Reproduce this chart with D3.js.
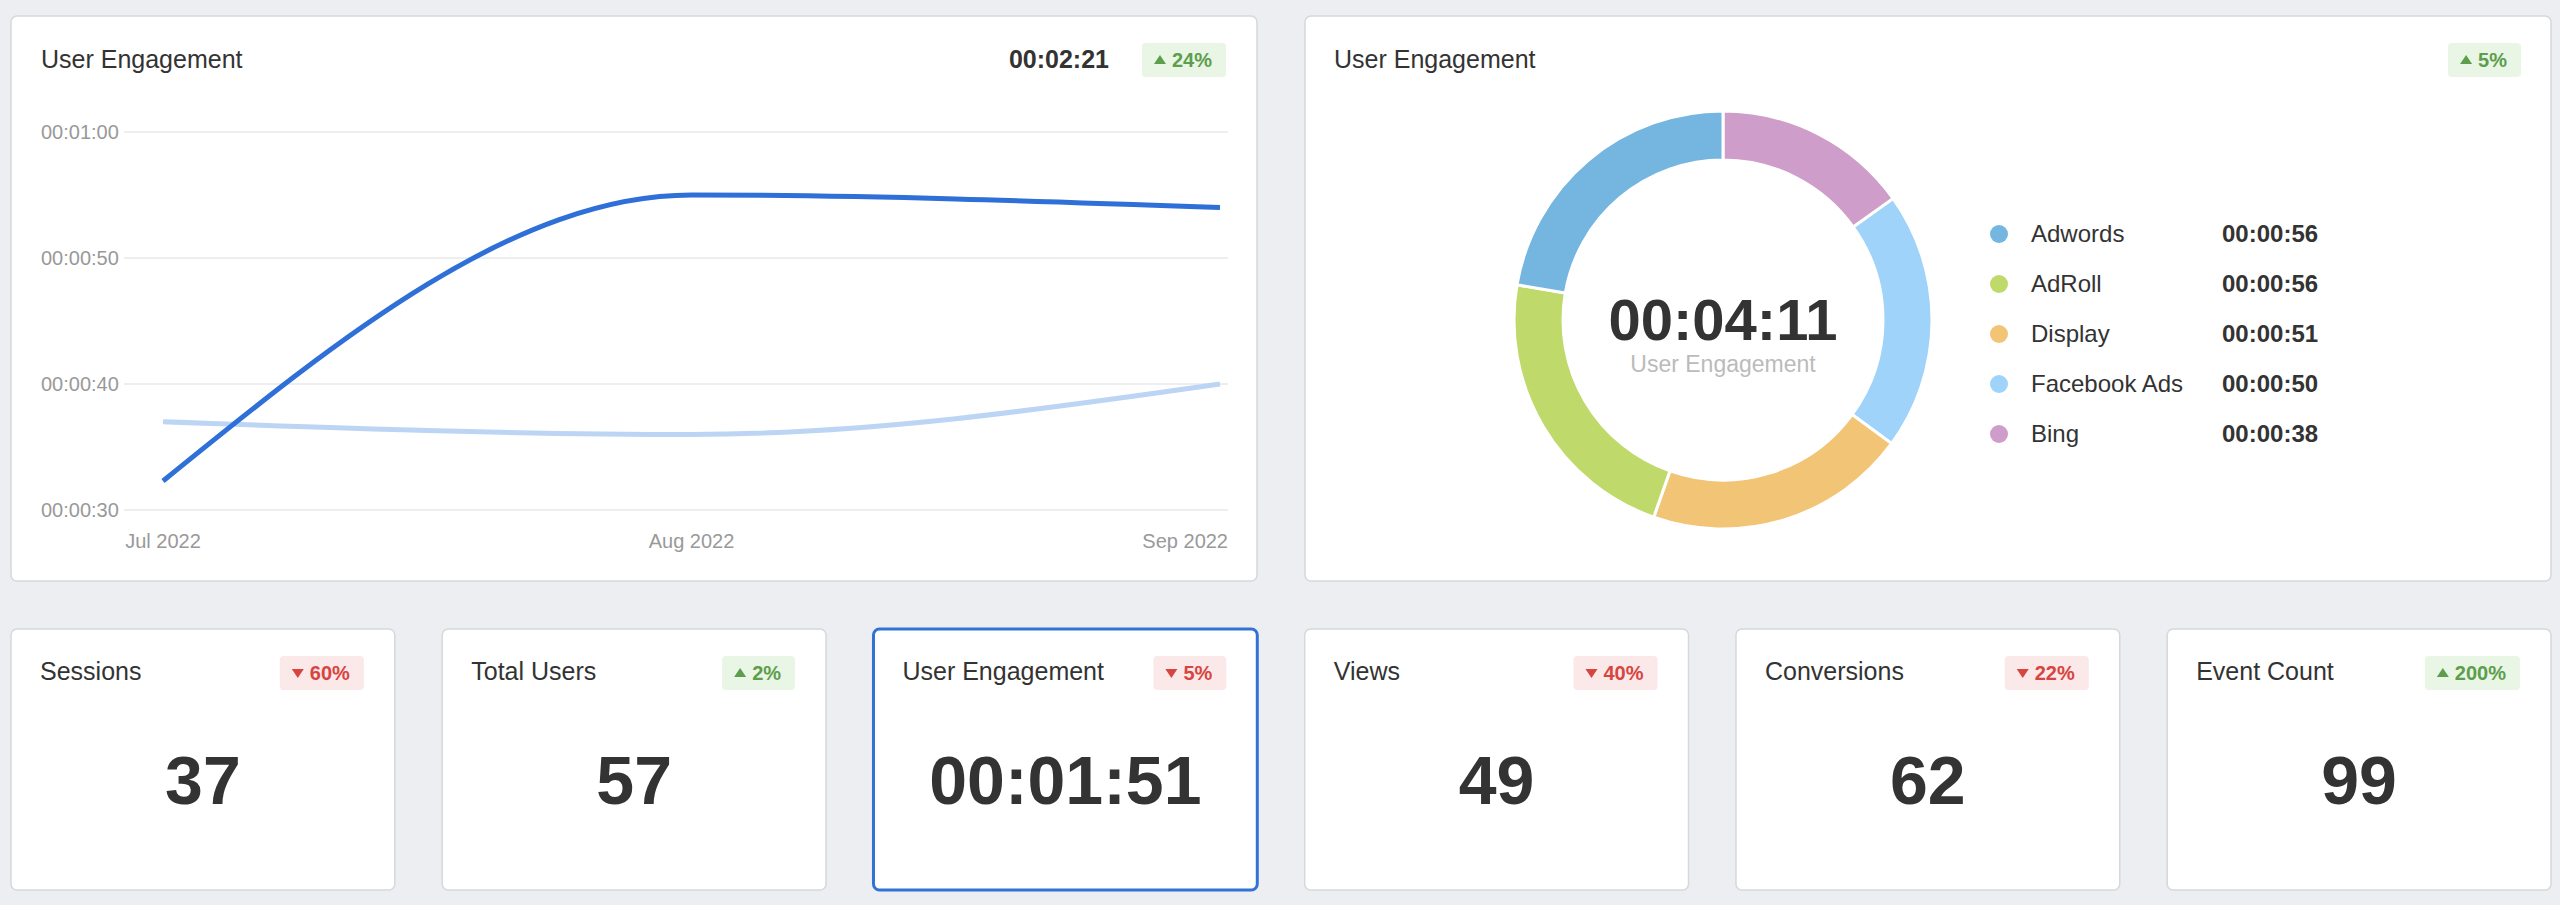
<!DOCTYPE html>
<html>
<head>
<meta charset="utf-8">
<script src="https://cdn.jsdelivr.net/npm/d3@7"></script>
<style>
  body { margin: 0; background: #eceef1; font-family: "Liberation Sans", Arial, sans-serif; }
</style>
</head>
<body>
<svg id="dash"></svg>
<script>
// line chart data (seconds)
const months = ["Jul 2022", "Aug 2022", "Sep 2022"];
const current = [32.3, 55, 54];
const previous = [37, 36, 40];
const yTicks = [30, 40, 50, 60];

// donut data (seconds), clockwise from top
const sources = ["Bing", "Facebook Ads", "Display", "AdRoll", "Adwords"];
const sourceVals = [38, 50, 51, 56, 56];
const sourceColors = ["#cf9dc9", "#9fd3fa", "#f2c476", "#c0d96b", "#74b6e0"];
const legendOrder = ["Adwords", "AdRoll", "Display", "Facebook Ads", "Bing"];

// kpi cards
const kpiNames = ["Sessions", "Total Users", "User Engagement", "Views", "Conversions", "Event Count"];
const kpiValues = ["37", "57", "00:01:51", "49", "62", "99"];
const kpiChange = [-60, 2, -5, -40, -22, 200];

const fmt = s => "00:" + d3.format("02")(Math.floor(s / 60)) + ":" + d3.format("02")(Math.round(s % 60));

const svg = d3.select("#dash").attr("width", 2560).attr("height", 905);

function card(x, y, w, h, sel) {
  svg.append("rect").attr("x", x).attr("y", y).attr("width", w).attr("height", h)
    .attr("rx", 6).attr("fill", "#fff")
    .attr("stroke", sel ? "#3173d5" : "#d5d8dc").attr("stroke-width", sel ? 3 : 1.5);
}

function badge(xRight, yMid, pct) {
  const up = pct >= 0;
  const g = svg.append("g");
  const t = g.append("text").attr("x", xRight - 14).attr("y", yMid + 7)
    .attr("text-anchor", "end").attr("font-size", 20).attr("font-weight", "bold")
    .attr("fill", up ? "#5c9e4c" : "#d64541").text(Math.abs(pct) + "%");
  const tw = t.node().getComputedTextLength();
  const w = tw + 44;
  g.insert("rect", "text").attr("x", xRight - w).attr("y", yMid - 17).attr("width", w).attr("height", 34)
    .attr("rx", 4).attr("fill", up ? "#e9f5e5" : "#fbe8e8");
  const ax = xRight - 14 - tw - 12;
  g.append("path")
    .attr("d", up ? `M${ax - 6},${yMid + 4}L${ax + 6},${yMid + 4}L${ax},${yMid - 5}Z`
                  : `M${ax - 6},${yMid - 4}L${ax + 6},${yMid - 4}L${ax},${yMid + 5}Z`)
    .attr("fill", up ? "#5c9e4c" : "#d64541");
}

// ---- line panel
card(11, 16, 1246, 565);
svg.append("text").attr("x", 41).attr("y", 68).attr("font-size", 25).attr("fill", "#333").text("User Engagement");
svg.append("text").attr("x", 1109).attr("y", 68).attr("text-anchor", "end").attr("font-size", 25)
  .attr("font-weight", "bold").attr("fill", "#333").text("00:02:21");
badge(1226, 60, 24);

const x = d3.scalePoint().domain(months).range([163, 1220]);
const y = d3.scaleLinear().domain([30, 60]).range([510, 132]);

svg.append("g").selectAll("line").data(yTicks).join("line")
  .attr("x1", 124).attr("x2", 1228).attr("y1", d => y(d)).attr("y2", d => y(d))
  .attr("stroke", "#eceef0").attr("stroke-width", 2);
svg.append("g").selectAll("text").data(yTicks).join("text")
  .attr("x", 41).attr("y", d => y(d) + 7).attr("font-size", 20).attr("fill", "#999").text(fmt);
svg.append("g").selectAll("text").data(months).join("text")
  .attr("x", (d, i) => i === 2 ? 1228 : x(d)).attr("y", 548)
  .attr("text-anchor", (d, i) => i === 2 ? "end" : "middle")
  .attr("font-size", 20).attr("fill", "#999").text(d => d);

const line = d3.line().x((d, i) => x(months[i])).y(d => y(d)).curve(d3.curveMonotoneX);
svg.append("path").attr("d", line(previous)).attr("fill", "none").attr("stroke", "#bcd5f4").attr("stroke-width", 5);
svg.append("path").attr("d", line(current)).attr("fill", "none").attr("stroke", "#2f6fd8").attr("stroke-width", 5);

// ---- donut panel
card(1305, 16, 1246, 565);
svg.append("text").attr("x", 1334).attr("y", 68).attr("font-size", 25).attr("fill", "#333").text("User Engagement");
badge(2521, 60, 5);

const cx = 1723, cy = 320;
const pie = d3.pie().sort(null).value(d => d)(sourceVals);
const arc = d3.arc().innerRadius(160).outerRadius(209);
svg.append("g").attr("transform", `translate(${cx},${cy})`).selectAll("path").data(pie).join("path")
  .attr("d", arc).attr("fill", (d, i) => sourceColors[i]).attr("stroke", "#fff").attr("stroke-width", 3);
svg.append("text").attr("x", cx).attr("y", cy + 20).attr("text-anchor", "middle").attr("font-size", 58)
  .attr("font-weight", "bold").attr("fill", "#333").text(fmt(d3.sum(sourceVals)));
svg.append("text").attr("x", cx).attr("y", cy + 52).attr("text-anchor", "middle").attr("font-size", 23)
  .attr("fill", "#bbb").text("User Engagement");

const lg = svg.append("g").selectAll("g").data(legendOrder).join("g")
  .attr("transform", (d, i) => `translate(1999,${234 + i * 50})`);
lg.append("circle").attr("r", 9).attr("fill", d => sourceColors[sources.indexOf(d)]);
lg.append("text").attr("x", 32).attr("y", 8).attr("font-size", 24).attr("fill", "#333").text(d => d);
lg.append("text").attr("x", 223).attr("y", 8).attr("font-size", 24).attr("font-weight", "bold")
  .attr("fill", "#333").text(d => fmt(sourceVals[sources.indexOf(d)]));

// ---- kpi cards
const kx = d3.scaleBand().domain(kpiNames).range([11, 2551]).paddingInner(0.11);
kpiNames.forEach((name, i) => {
  const x0 = kx(name), w = kx.bandwidth();
  card(x0, 629, w, 261, i === 2);
  svg.append("text").attr("x", x0 + 29).attr("y", 680).attr("font-size", 25).attr("fill", "#333").text(name);
  badge(x0 + w - 31, 673, kpiChange[i]);
  svg.append("text").attr("x", x0 + w / 2).attr("y", 804).attr("text-anchor", "middle").attr("font-size", 68)
    .attr("font-weight", "bold").attr("fill", "#333").text(kpiValues[i]);
});
</script>
</body>
</html>
